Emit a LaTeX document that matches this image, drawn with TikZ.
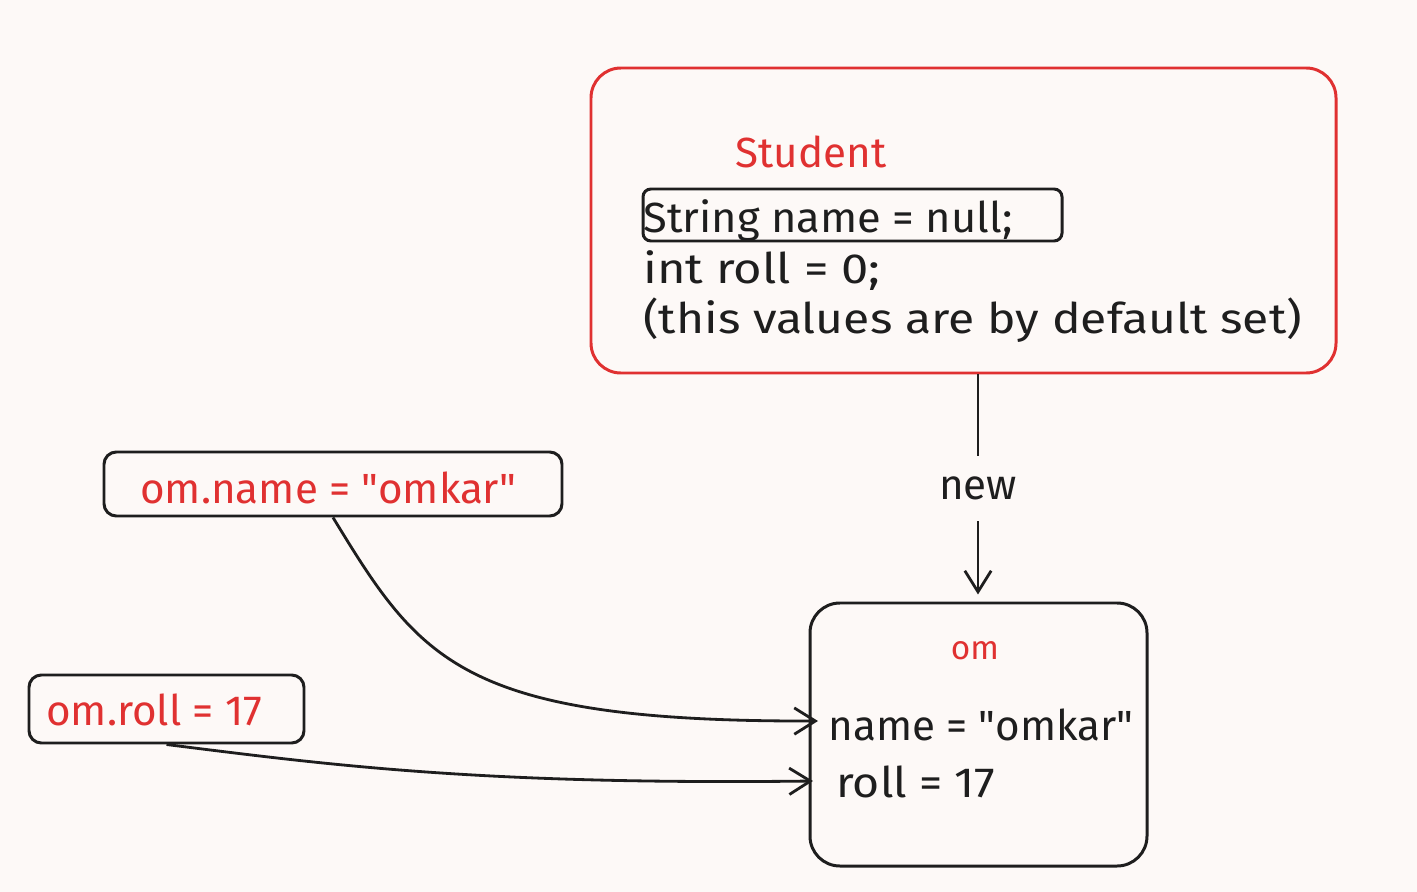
\documentclass[tikz,border=0pt]{standalone}
\usepackage{fontspec}
\setmainfont{Fira Sans}
\newfontfamily\qfont{Fira Sans}
\usetikzlibrary{arrows.meta,calc}
\definecolor{bg}{HTML}{FDF9F7}
\definecolor{exred}{HTML}{E03131}
\definecolor{ink}{HTML}{1E1E1E}
\newcommand{\qq}{{\qfont\char"22\relax}}
\newcommand{\wide}[2]{\scalebox{#1}[1]{#2}}
\tikzset{
  box/.style={draw=ink, line width=1.7pt, rounded corners=#1, inner sep=0pt},
  txt/.style={font=\fontsize{24}{28}\selectfont, text=ink, inner sep=0pt},
  redtxt/.style={txt, text=exred},
  conn/.style={draw=ink, line width=1.6pt, -{Straight Barb[length=12pt,width=15pt,line width=1.6pt]}},
}
\begin{document}
\begin{tikzpicture}[x=0.02cm,y=-0.02cm]
\fill[bg] (0,0) rectangle (1417,892);
\useasboundingbox (0,0) rectangle (1417,892);
% Student box
\node[box=17pt, draw=exred, minimum width=745*0.02cm, minimum height=305*0.02cm] (student) at (963.5,220.5) {};
\node[redtxt, anchor=base] (title) at (811,168) {Student};
\node[box=4.5pt, minimum width=419*0.02cm, minimum height=52*0.02cm] (inner) at (852.5,215) {};
\node[txt, anchor=base west] (l1) at (643,232) {\wide{1.03}{String name = null;}};
\node[txt, anchor=base west] (l2) at (643,283) {\wide{1.16}{int roll = 0;}};
\node[txt, anchor=base west] (l3) at (643,333) {\wide{1.14}{(this values are by default set)}};
% om box
\node[box=17pt, minimum width=337*0.02cm, minimum height=263*0.02cm] (om) at (978.5,734.5) {};
\node[redtxt, font=\fontsize{19}{22}\selectfont, anchor=base] (omt) at (975,659) {om};
\node[txt, anchor=base west] (o1) at (828,740) {name = \qq omkar\qq};
\node[txt, anchor=base west] (o2) at (836,797) {\wide{1.1}{roll = 17}};
% assignment boxes
\node[box=7pt, minimum width=458*0.02cm, minimum height=64*0.02cm] (omname) at (333,484) {};
\node[redtxt, anchor=base west] (omnamet) at (140,503) {om.name = \qq omkar\qq};
\node[box=7pt, minimum width=275*0.02cm, minimum height=68*0.02cm] (omroll) at (166.5,709) {};
\node[redtxt, anchor=base west] (omrollt) at (46,725) {om.roll = 17};
% connectors
\coordinate (e1) at (818,721);
\coordinate (e2) at (813,781);
\draw[conn, shorten >=4pt] (student.south -| 978,0) -- node[fill=bg, txt, minimum height=65*0.02cm, minimum width=80*0.02cm] (new) {new} (om.north -| 978,0);
\draw[conn] (omname.south) .. controls (420,660) and (460,722) .. (e1);
\draw[conn] (omroll.south) .. controls (330,765) and (480,785) .. (e2);
\end{tikzpicture}
\end{document}
